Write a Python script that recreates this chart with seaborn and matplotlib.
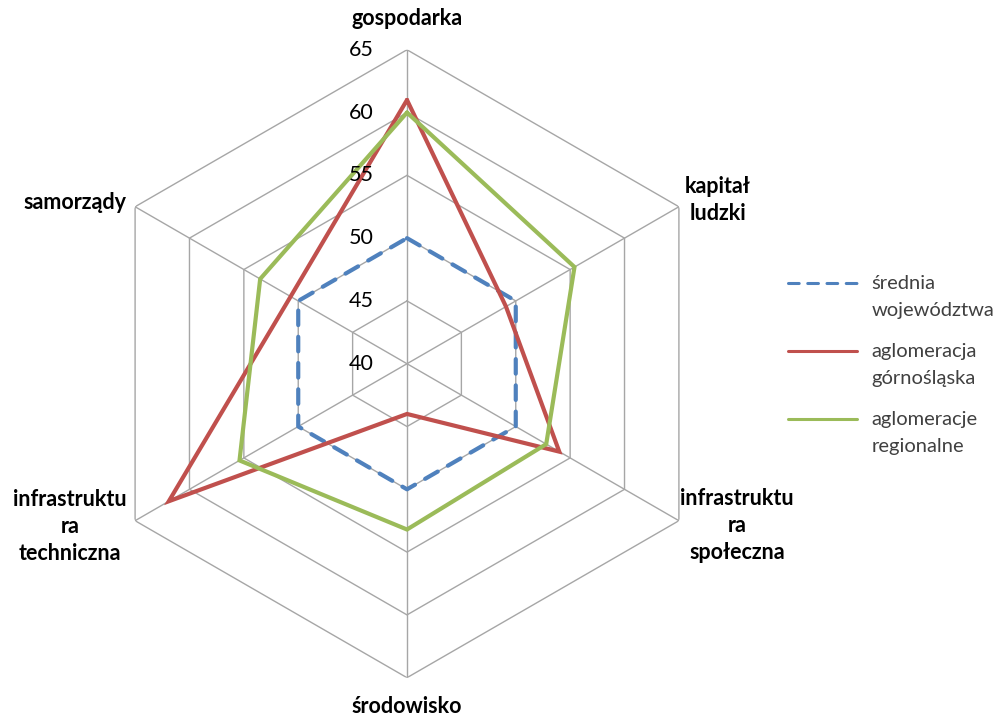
import numpy as np
import pandas as pd
import matplotlib
matplotlib.use("Agg")
import matplotlib.pyplot as plt
import matplotlib.transforms as mtrans
from matplotlib.lines import Line2D
from matplotlib.legend_handler import HandlerLine2D
import seaborn as sns

# ---- data ----
categories = ["gospodarka", "kapitał\nludzki", "infrastruktu\nra\nspołeczna",
              "środowisko", "infrastruktu\nra\ntechniczna", "samorządy"]
series_names = ["średnia\nwojewództwa", "aglomeracja\ngórnośląska", "aglomeracje\nregionalne"]
srednia = [50, 50, 50, 50, 50, 50]
gornoslaska = [61.0, 49.1, 54.0, 44.0, 61.9, 50.7]
regionalne = [60.0, 55.4, 52.8, 53.2, 55.4, 53.5]
r_ticks = [40, 45, 50, 55, 60, 65]
colors = ["#4F81BD", "#C0504D", "#9BBB59"]

sns.set_theme(style="white")
plt.rcParams["font.family"] = ["Lato", "DejaVu Sans"]

n = len(categories)
theta = np.linspace(0, 2 * np.pi, n + 1)

rows = []
for name, vals in zip(series_names, [srednia, gornoslaska, regionalne]):
    closed = list(vals) + [vals[0]]
    for t, v in zip(theta, closed):
        rows.append({"series": name, "theta": t, "value": v})
df = pd.DataFrame(rows)

fig = plt.figure(figsize=(10, 7.16), dpi=100)
ax = fig.add_axes([0.093, 0.0535, 0.628, 0.877], projection="polar")
ax.set_theta_offset(np.pi / 2)
ax.set_theta_direction(-1)
ax.set_ylim(r_ticks[0], r_ticks[-1])
ax.grid(False)
ax.spines["polar"].set_visible(False)
ax.set_xticks([])
ax.set_yticks([])

grid_c = "#A6A6A6"
for r in r_ticks[1:]:
    ax.plot(theta, [r] * (n + 1), color=grid_c, lw=1, zorder=1)
for t in theta[:n]:
    ax.plot([t, t], [r_ticks[0], r_ticks[-1]], color=grid_c, lw=1, zorder=1)

sns.lineplot(data=df, x="theta", y="value", hue="series", style="series",
             hue_order=series_names, style_order=series_names,
             palette=dict(zip(series_names, colors)),
             dashes={series_names[0]: (3.5, 2.8), series_names[1]: "", series_names[2]: ""},
             sort=False, estimator=None, lw=3, ax=ax, legend=False, zorder=3)
for i, line in enumerate(ax.lines[-3:]):
    line.set_dash_capstyle("round")
    line.set_solid_joinstyle("miter")
    line.set_dash_joinstyle("round" if i == 0 else "miter")
ax.set_xlabel("")
ax.set_ylabel("")

# radial tick labels
off = mtrans.ScaledTranslation(-46 / 100, 0, fig.dpi_scale_trans)
for r in r_ticks:
    ax.text(0, r, str(r), transform=ax.transData + off, ha="center", va="center",
            fontsize=15.5, color="#000000")

# category labels
offsets = [(0, 31), (39, 7), (58, -5), (0, -29), (-65, -6), (-60, 4)]
for t, cat, (dx, dy) in zip(theta[:n], categories, offsets):
    ax.annotate(cat, xy=(t, r_ticks[-1]), xytext=(dx, dy), textcoords="offset pixels",
                ha="center", va="center", multialignment="center", linespacing=1.35,
                fontsize=15.5, fontweight="bold", color="#000000", annotation_clip=False)


class TopLineHandler(HandlerLine2D):
    def create_artists(self, legend, orig_handle, xdescent, ydescent, width, height,
                       fontsize, trans):
        arts = super().create_artists(legend, orig_handle, xdescent, ydescent, width,
                                      height, fontsize, trans)
        for a in arts:
            a.set_ydata(np.asarray(a.get_ydata(), dtype=float) + 0.67 * fontsize)
        return arts


handles = [Line2D([], [], color=colors[0], lw=2.2, dashes=(3.5, 2.8), dash_capstyle="round"),
           Line2D([], [], color=colors[1], lw=2.2),
           Line2D([], [], color=colors[2], lw=2.2)]
leg = fig.legend(handles, series_names, loc="upper left", bbox_to_anchor=(0.788, 0.616),
                 frameon=False, fontsize=14.5, handlelength=3.45, handletextpad=0.7,
                 labelspacing=1.2, borderpad=0, borderaxespad=0, labelcolor="#404040",
                 handler_map={Line2D: TopLineHandler()})
for t in leg.get_texts():
    t.set_linespacing(1.7)

fig.savefig("out.png", dpi=100)
